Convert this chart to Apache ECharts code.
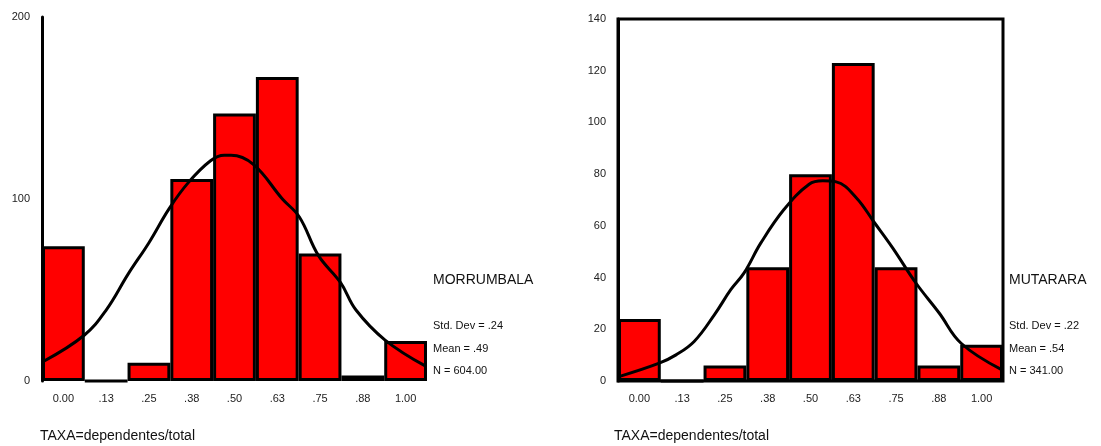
<!DOCTYPE html>
<html>
<head>
<meta charset="utf-8">
<script src="https://cdn.jsdelivr.net/npm/echarts@6/dist/echarts.min.js"></script>
<style>
html,body{margin:0;padding:0;background:#fff;}
#c{width:1101px;height:446px;}
</style>
</head>
<body>
<div id="c"></div>
<script>
// ---- data ----
const binLabels = ['0.00', '.13', '.25', '.38', '.50', '.63', '.75', '.88', '1.00'];

const morrumbalaCounts = [74, 0, 10, 111, 147, 167, 70, 3, 22];
const morrumbalaCurveX = [-0.06, 0.06, 0.125, 0.19, 0.25, 0.31, 0.365, 0.43, 0.47, 0.49, 0.555, 0.64, 0.69, 0.745, 0.81, 0.855, 0.94, 1.06];
const morrumbalaCurveY = [10.6, 25, 39, 59, 76, 95, 109, 121, 124, 124, 119, 100, 90, 69, 54, 39, 22.5, 8];
const morrumbalaStats = ['Std. Dev = .24', 'Mean = .49', 'N = 604.00'];

const mutararaCounts = [24, 0, 6, 44, 80, 123, 44, 6, 14];
const mutararaCurveX = [-0.055, 0.058, 0.107, 0.16, 0.219, 0.267, 0.306, 0.355, 0.423, 0.496, 0.536, 0.575, 0.633, 0.687, 0.74, 0.808, 0.876, 0.94, 1.057];
const mutararaCurveY = [1.9, 6.9, 10.1, 15.3, 25.6, 35.3, 41.8, 53.4, 66.4, 76.1, 77.4, 77, 71, 61.2, 51.5, 37.9, 26.3, 14.6, 4.5];
const mutararaStats = ['Std. Dev = .22', 'Mean = .54', 'N = 341.00'];

const leftYTicks = {min: 0, max: 200, interval: 100};
const rightYTicks = {min: 0, max: 140, interval: 20};
const xTitle = 'TAXA=dependentes/total';

// ---- chart ----
const FONT = '"Liberation Sans", Arial, sans-serif';
const chart = echarts.init(document.getElementById('c'), null, {renderer: 'canvas'});

function zip(xs, ys) { return xs.map((x, i) => [x, ys[i]]); }

const catAxis = (gi) => ({
  type: 'category', gridIndex: gi, data: binLabels, boundaryGap: true,
  axisLine: {show: false}, axisTick: {show: false},
  axisLabel: {fontFamily: FONT, fontSize: 11, color: '#222', margin: 12}
});
const valXAxis = (gi) => ({
  type: 'value', gridIndex: gi, min: -0.0625, max: 1.0625, show: false
});
const yAxis = (gi, t) => ({
  type: 'value', gridIndex: gi, min: t.min, max: t.max, interval: t.interval,
  splitLine: {show: false}, axisTick: {show: false},
  axisLine: {show: true, onZero: false, lineStyle: {color: '#000', width: 3}},
  axisLabel: {fontFamily: FONT, fontSize: 11, color: '#222', margin: 12}
});

const barStyle = {color: '#ff0000', borderColor: '#000', borderWidth: 3};
const lineStyle = {color: '#000', width: 3};

chart.setOption({
  animation: false,
  grid: [
    {left: 42, top: 17, width: 385, height: 364, show: false},
    {left: 618, top: 19, width: 385, height: 362, show: true, borderColor: '#000', borderWidth: 3, backgroundColor: 'transparent'}
  ],
  xAxis: [catAxis(0), valXAxis(0), catAxis(1), valXAxis(1)],
  yAxis: [yAxis(0, leftYTicks), yAxis(1, rightYTicks)],
  series: [
    {type: 'bar', xAxisIndex: 0, yAxisIndex: 0, data: morrumbalaCounts, barCategoryGap: '0%', itemStyle: barStyle, z: 2},
    {type: 'line', xAxisIndex: 1, yAxisIndex: 0, data: zip(morrumbalaCurveX, morrumbalaCurveY), smooth: 0.4, showSymbol: false, lineStyle: lineStyle, z: 5},
    {type: 'bar', xAxisIndex: 2, yAxisIndex: 1, data: mutararaCounts, barCategoryGap: '0%', itemStyle: barStyle, z: 2},
    {type: 'line', xAxisIndex: 3, yAxisIndex: 1, data: zip(mutararaCurveX, mutararaCurveY), smooth: 0.4, showSymbol: false, lineStyle: lineStyle, z: 5}
  ],
  graphic: [
    {type: 'text', left: 433, top: 273, style: {text: 'MORRUMBALA', font: '14px ' + FONT, fill: '#111'}},
    {type: 'text', left: 433, top: 320, style: {text: morrumbalaStats[0], font: '11px ' + FONT, fill: '#111'}},
    {type: 'text', left: 433, top: 343, style: {text: morrumbalaStats[1], font: '11px ' + FONT, fill: '#111'}},
    {type: 'text', left: 433, top: 365, style: {text: morrumbalaStats[2], font: '11px ' + FONT, fill: '#111'}},
    {type: 'text', left: 1009, top: 273, style: {text: 'MUTARARA', font: '14px ' + FONT, fill: '#111'}},
    {type: 'text', left: 1009, top: 320, style: {text: mutararaStats[0], font: '11px ' + FONT, fill: '#111'}},
    {type: 'text', left: 1009, top: 343, style: {text: mutararaStats[1], font: '11px ' + FONT, fill: '#111'}},
    {type: 'text', left: 1009, top: 365, style: {text: mutararaStats[2], font: '11px ' + FONT, fill: '#111'}},
    {type: 'text', left: 40, top: 429, style: {text: xTitle, font: '14px ' + FONT, fill: '#111'}},
    {type: 'text', left: 614, top: 429, style: {text: xTitle, font: '14px ' + FONT, fill: '#111'}}
  ]
});
</script>
</body>
</html>
